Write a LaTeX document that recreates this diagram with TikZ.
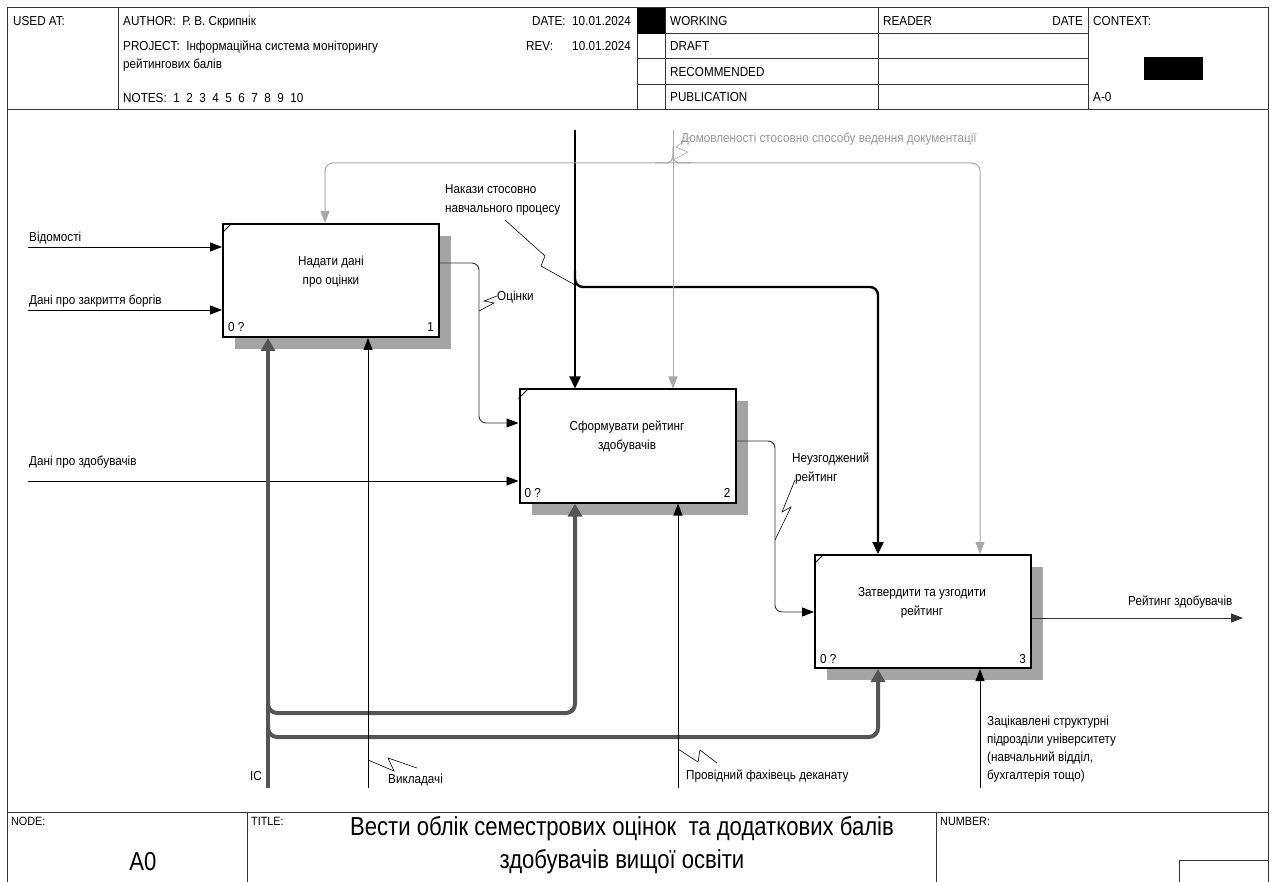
\documentclass[tikz,border=0pt]{standalone}
\usepackage{fontspec}
\setmainfont{Liberation Sans}[FakeStretch=0.9]
\newfontfamily\narrowfont{Liberation Sans}[FakeStretch=0.85]
\usetikzlibrary{arrows.meta,calc}
\definecolor{icgray}{HTML}{555555}
\definecolor{ctlgray}{HTML}{A8A8A8}
\definecolor{framegray}{HTML}{333333}
\definecolor{shadowgray}{HTML}{A4A4A4}
\tikzset{
  frame/.style={line width=1pt, draw=framegray},
  fbox/.style={draw=black, line width=2pt, fill=white, minimum width=216pt, minimum height=113pt, inner sep=0pt},
  shadowbox/.style={fill=shadowgray, draw=none, minimum width=216pt, minimum height=113pt, inner sep=0pt},
  txt/.style={inner sep=0pt, anchor=base west, font=\fontsize{13}{15}\selectfont},
  boxtxt/.style={inner sep=0pt, align=center, font=\fontsize{13}{19}\selectfont},
  inarrow/.style={line width=0.9pt, draw=black, -{Triangle[length=12pt,width=9pt]}},
  flowarrow/.style={line width=0.9pt, draw=black!80, rounded corners=7pt, -{Triangle[length=12pt,width=9pt,color=black]}},
  ctlblack/.style={line width=2.4pt, draw=black, rounded corners=8pt, -{Triangle[length=12pt,width=11pt]}},
  ctlgrayline/.style={line width=1pt, draw=ctlgray, rounded corners=8pt, -{Triangle[length=12pt,width=9pt]}},
  ctljoin/.style={line width=1pt, draw=ctlgray, rounded corners=7pt},
  mech/.style={line width=4pt, draw=icgray, rounded corners=9pt, -{Triangle[length=13pt,width=14pt]}},
  mechthin/.style={line width=0.9pt, draw=black, -{Triangle[length=12pt,width=9pt]}},
  leader/.style={line width=0.6pt, draw=black},
}
\begin{document}
\begin{tikzpicture}[x=1pt,y=-1pt]
\useasboundingbox (0,0) rectangle (1275,882);
\fill[white] (0,0) rectangle (1275,882);
% ---------- frame ----------
\draw[frame] (7,882) -- (7,8) -- (1268,8) -- (1268,882);
\draw[frame] (7,110) -- (1268,110);
\draw[frame] (7,812) -- (1268,812);
\draw[frame] (118,8) -- (118,110);
\draw[frame] (637,8) -- (637,110);
\draw[frame] (665,8) -- (665,110);
\draw[frame] (878,8) -- (878,110);
\draw[frame] (1088,8) -- (1088,110);
\foreach \yy in {34,59,85} \draw[frame] (637,\yy) -- (1088,\yy);
\fill[black] (637,8) rectangle (665,34);
\fill[black] (1144,57) rectangle (1203,80);
\draw[frame] (247,812) -- (247,882);
\draw[frame] (936,812) -- (936,882);
\draw[frame] (1179,882) -- (1179,860) -- (1268,860);
% ---------- header text ----------
\node[txt] (usedat) at (13,26) {USED AT:};
\node[txt] (author) at (123,26) {AUTHOR:\ \ Р. В. Скрипнік};
\node[txt] (project) at (123,51) {PROJECT:\ \ Інформаційна система моніторингу};
\node[txt] (project2) at (123,69) {рейтингових балів};
\node[txt] (notes) at (123,103) {NOTES:\ \ 1\ \ 2\ \ 3\ \ 4\ \ 5\ \ 6\ \ 7\ \ 8\ \ 9\ \ 10};
\node[txt, anchor=base east] (date) at (631,26) {DATE:\ \ 10.01.2024};
\node[txt] (rev) at (526,51) {REV:};
\node[txt, anchor=base east] (revd) at (631,51) {10.01.2024};
\node[txt] (working) at (670,26) {WORKING};
\node[txt] (draft) at (670,51) {DRAFT};
\node[txt] (recom) at (670,77) {RECOMMENDED};
\node[txt] (publ) at (670,102) {PUBLICATION};
\node[txt] (reader) at (883,26) {READER};
\node[txt, anchor=base east] (rdate) at (1083,26) {DATE};
\node[txt] (context) at (1093,26) {CONTEXT:};
\node[txt] (ctxa) at (1093,102) {A-0};
% ---------- footer ----------
\node[txt, font=\fontsize{12}{14}\selectfont] (nodelbl) at (11,825) {NODE:};
\node[txt, font=\fontsize{12}{14}\selectfont] (titlelbl) at (251,825) {TITLE:};
\node[txt, font=\fontsize{12}{14}\selectfont] (numlbl) at (940,825) {NUMBER:};
\node[inner sep=0pt, font=\narrowfont\fontsize{26}{33}\selectfont] (a0) at (143,862) {A0};
\node[inner sep=0pt, align=center, font=\narrowfont\fontsize{26}{33}\selectfont] (title) at (622,845) {Вести облік семестрових оцінок~ та додаткових балів\\здобувачів вищої освіти};
% ---------- boxes ----------
\node[shadowbox] (s1) at (343,292.5) {};
\node[shadowbox] (s2) at (639.5,458) {};
\node[shadowbox] (s3) at (935,623.5) {};
\node[fbox] (b1) at (331,280.5) {};
\node[fbox] (b2) at (627.5,446) {};
\node[fbox] (b3) at (923,611.5) {};
\draw[line width=1pt] ($(b1.north west)+(0,10)$) -- ($(b1.north west)+(10,0)$);
\draw[line width=1pt] ($(b2.north west)+(0,10)$) -- ($(b2.north west)+(10,0)$);
\draw[line width=1pt] ($(b3.north west)+(0,10)$) -- ($(b3.north west)+(10,0)$);
\node[boxtxt] (b1t) at (331,272) {Надати дані\\про оцінки};
\node[boxtxt] (b2t) at (627,437) {Сформувати рейтинг\\здобувачів};
\node[boxtxt] (b3t) at (922,603) {Затвердити та узгодити\\рейтинг};
\node[txt] (b1a) at ($(b1.south west)+(6,-6)$) {0 ?};
\node[txt, anchor=base east] (b1b) at ($(b1.south east)+(-6,-6)$) {1};
\node[txt] (b2a) at ($(b2.south west)+(6,-6)$) {0 ?};
\node[txt, anchor=base east] (b2b) at ($(b2.south east)+(-6,-6)$) {2};
\node[txt] (b3a) at ($(b3.south west)+(6,-6)$) {0 ?};
\node[txt, anchor=base east] (b3b) at ($(b3.south east)+(-6,-6)$) {3};
% ---------- inputs ----------
\coordinate (i1) at (28,247);
\coordinate (i2) at (28,310);
\coordinate (i3) at (28,481);
\draw[inarrow] (i1) -- (i1 -| b1.west);
\draw[inarrow] (i2) -- (i2 -| b1.west);
\draw[inarrow] (i3) -- (i3 -| b2.west);
\node[txt] (l1) at (29,242) {Відомості};
\node[txt] (l2) at (29,305) {Дані про закриття боргів};
\node[txt] (l3) at (29,466) {Дані про здобувачів};
% ---------- flows ----------
\draw[flowarrow] (b1.east |- 0,263) -- (479,263) -- (479,423) -- (b2.west |- 0,423);
\draw[flowarrow] (b2.east |- 0,441) -- (775,441) -- (775,612) -- (b3.west |- 0,612);
\coordinate (o3) at (1243,618);
\draw[inarrow, draw=black!80] (b3.east |- o3) -- (o3);
\node[txt] (lo1) at (497,301) {Оцінки};
\draw[leader] (479,311) -- (494,303) -- (484,301) -- (497,296);
\node[txt] (lo2a) at (792,463) {Неузгоджений};
\node[txt] (lo2b) at (795,482) {рейтинг};
\draw[leader] (795,480) -- (782,512) -- (791,507) -- (775,540);
\node[txt] (lo3) at (1128,605) {Рейтинг здобувачів};
% ---------- controls ----------
\coordinate (c1) at (575,130);
\coordinate (c2) at (673,130);
\draw[ctlblack] (c1) -- (c1 |- b2.north);
\draw[ctlblack] (575,270) -- (575,287) -- (878,287) -- (b3.north -| 878,0);
\node[txt] (lc1a) at (445,194) {Накази стосовно};
\node[txt] (lc1b) at (445,213) {навчального процесу};
\draw[leader] (505,220) -- (545,256) -- (541,266) -- (575,285);
\draw[ctlgrayline] (c2) -- (c2 |- b2.north);
\draw[ctlgrayline, {Triangle[length=12pt,width=9pt]}-{Triangle[length=12pt,width=9pt]}] (b1.north -| 325,0) -- (325,163) -- (980,163) -- (b3.north -| 980,0);
\draw[ctljoin] (655,163) -- (673,163) -- (673,148);
\draw[ctljoin] (691,163) -- (673,163) -- (673,148);
\node[txt, text=ctlgray!90!black] (lc2) at (681,143) {Домовленості стосовно способу ведення документації};
\draw[leader, draw=ctlgray] (690,137) -- (676,147) -- (688,152) -- (673,160);
% ---------- mechanisms ----------
\coordinate (m1) at (268,788);
\coordinate (m2) at (368,788);
\coordinate (m3) at (678,788);
\coordinate (m4) at (980,788);
\draw[mech] (m1) -- (m1 |- b1.south);
\draw[mech] (268,700) -- (268,713) -- (575,713) -- (b2.south -| 575,0);
\draw[mech] (268,724) -- (268,737) -- (878,737) -- (b3.south -| 878,0);
\draw[mechthin] (m2) -- (m2 |- b1.south);
\draw[mechthin] (m3) -- (m3 |- b2.south);
\draw[mechthin] (m4) -- (m4 |- b3.south);
\node[txt] (lm1) at (250,780) {IC};
\node[txt] (lm2) at (388,783) {Викладачі};
\draw[leader] (368,760) -- (394,771) -- (388,758) -- (417,768);
\node[txt] (lm3) at (686,779) {Провідний фахівець деканату};
\draw[leader] (678,749) -- (698,762) -- (700,750) -- (717,763);
\node[txt, align=left, font=\fontsize{13}{18}\selectfont, anchor=north west] (lm4) at (987,716) {Зацікавлені структурні\\підрозділи університету\\(навчальний відділ,\\бухгалтерія тощо)};
\end{tikzpicture}
\end{document}
